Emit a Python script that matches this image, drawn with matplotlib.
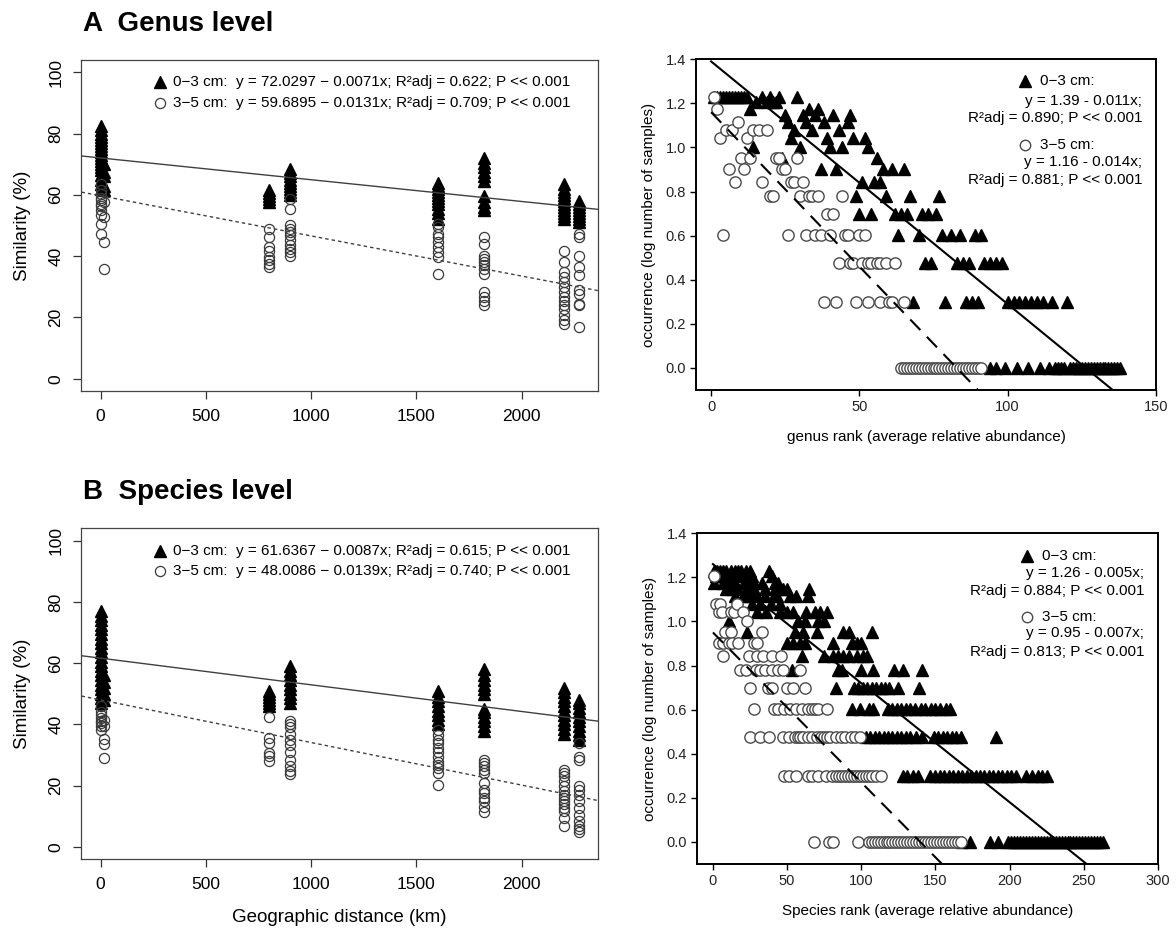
"""Distance-decay of similarity and rank-occurrence plots, genus and species level."""

import matplotlib
matplotlib.use("Agg")
import matplotlib.pyplot as plt
import numpy as np

plt.rcParams["font.family"] = ["Liberation Sans", "DejaVu Sans"]

# ---------------------------------------------------------------------------
# left panels: similarity (%) against geographic distance (km)
# ---------------------------------------------------------------------------
site_dist = [0, 15, 800, 900, 1600, 1820, 2200, 2270]

genus_sim_03 = [
    [62, 63.5, 65, 66.5, 68, 69, 70, 71, 72, 73, 74, 75, 76, 77, 78, 79, 80, 81, 82.5],
    [61.5, 63, 66, 67.5, 70],
    [57.5, 58.5, 59.5, 60.5, 61.5],
    [60, 61, 62, 63, 64, 65, 66, 67, 68.5],
    [52, 54, 55.5, 57, 58, 59, 60, 61, 62, 63, 64],
    [55, 56, 57.5, 59.5, 64.5, 66, 67.5, 69, 70.5, 72],
    [52, 53, 54, 55, 56, 57, 58, 59, 60, 61, 62, 63.5],
    [51, 52, 53, 54, 55, 56, 57, 58],
]
genus_sim_35 = [
    [47.3, 50.6, 53.3, 55, 56.5, 57.1, 58.2, 59, 60.3, 61.5, 63.6],
    [35.9, 44.6, 52.8, 57.5],
    [36.4, 37.5, 38.6, 39.6, 41.8, 42.9, 46.2, 48.9],
    [40, 41.4, 42.4, 43.5, 45.2, 46.8, 47.9, 49, 50.1, 55.5, 58.7],
    [34.2, 39.6, 41.3, 42.9, 44.6, 46.2, 47.3, 49.5, 50.6],
    [23.9, 25.5, 26.6, 28.2, 34.2, 35.9, 37, 38, 39.1, 40.2, 44, 46.2],
    [17.9, 19, 20.7, 22.8, 23.9, 25.5, 26.6, 28.2, 29.9, 31.5, 33.1, 34.8, 38, 41.8],
    [16.8, 23.9, 24.4, 27.7, 28.8, 33.7, 36.4, 40.2, 46.2, 47.3],
]
species_sim_03 = [
    [47, 48.5, 50, 51.5, 53, 54.5, 56, 57.5, 59, 60.5, 62, 63.5, 65, 66.5, 68, 69.5,
     71, 72.5, 74, 75.5, 77],
    [48, 50, 52, 54, 56],
    [46, 47, 48, 49, 50, 51],
    [47, 48.5, 50, 51.5, 53, 54.5, 56, 57.5, 59],
    [40, 41.5, 43, 44.5, 46, 47.5, 49, 51],
    [38, 39.5, 41, 42.5, 44, 45, 50, 51.5, 53, 54.5, 56, 58],
    [37, 38.5, 40, 41.5, 43, 44.5, 46, 47.5, 49, 50.5, 52],
    [35, 36.5, 38, 39.5, 41, 42.5, 44, 45.5, 47, 48],
]
species_sim_35 = [
    [38.3, 39.4, 40.5, 41, 42.1, 43, 44, 46],
    [29.2, 33.5, 35.1, 39.5, 41.5],
    [28.1, 29.7, 30.8, 34, 35.6, 42.3],
    [23.7, 24.7, 26.4, 28.4, 31.1, 33.3, 34.9, 37, 39.1, 40.1, 41.2],
    [20.3, 24.1, 25.7, 26.8, 27.9, 29.5, 31.1, 32.2, 33.8, 34.9, 36.5, 38.2],
    [11.6, 13.2, 14.9, 16, 17.5, 18.6, 20.8, 24.1, 25.2, 26.4, 27.4, 28.4],
    [6.9, 9.6, 11.7, 12.8, 13.9, 14.9, 16, 17.1, 18.2, 19.8, 21.4, 23.1, 24.1, 25.2],
    [4.8, 5.8, 6.9, 8.5, 10.6, 12.8, 14.9, 17.1, 18.6, 19.8, 28.4, 29.5, 33.8],
]

# regression fits (intercept, slope) as printed in the panels
genus_fit_03 = (72.0297, -0.0071)
genus_fit_35 = (59.6895, -0.0131)
species_fit_03 = (61.6367, -0.0087)
species_fit_35 = (48.0086, -0.0139)

genus_eq = [
    "0\u22123 cm:  y = 72.0297 \u2212 0.0071x; R\u00b2adj = 0.622; P << 0.001",
    "3\u22125 cm:  y = 59.6895 \u2212 0.0131x; R\u00b2adj = 0.709; P << 0.001",
]
species_eq = [
    "0\u22123 cm:  y = 61.6367 \u2212 0.0087x; R\u00b2adj = 0.615; P << 0.001",
    "3\u22125 cm:  y = 48.0086 \u2212 0.0139x; R\u00b2adj = 0.740; P << 0.001",
]

# ---------------------------------------------------------------------------
# right panels: occurrence (log number of samples) against abundance rank
# ---------------------------------------------------------------------------
occ_levels = [1.23, 1.204, 1.176, 1.146, 1.114, 1.079, 1.041, 1.0, 0.954, 0.903,
              0.845, 0.778, 0.699, 0.602, 0.477, 0.301, 0.0]

genus_rank_03 = [
    [1, 2, 3, 4, 5, 6, 7, 8, 9, 10, 11, 12, 17, 20, 23, 29],
    [15, 19, 21, 22],
    [13, 33, 36],
    [25, 31, 35, 41, 47],
    [26, 32, 38, 46],
    [28, 34, 43],
    [27, 39, 48, 52],
    [14, 30, 40, 44, 53],
    [24, 56],
    [37, 42, 58, 61, 65],
    [51, 55, 57],
    [49, 59, 67, 77],
    [50, 54, 62, 64, 66, 71, 73, 76],
    [63, 70, 78, 81, 84, 89, 91],
    [72, 74, 83, 85, 87, 92, 94, 96, 98],
    [68, 79, 86, 88, 90, 100, 102, 104, 106, 108, 110, 112, 115, 120],
    [94, 96, 99, 103, 107, 111, 114, 116, 117, 118, 119, 121, 122, 123, 124, 125,
     126, 127, 128, 129, 130, 131, 132, 133, 134, 135, 136, 137, 138],
]
genus_rank_35 = [
    [1],
    [],
    [2],
    [],
    [9],
    [5, 7, 14, 16, 19],
    [3, 12],
    [],
    [10, 13, 22, 23, 29],
    [6, 11, 24, 25],
    [8, 17, 27, 28, 31],
    [20, 21, 30, 33, 34, 36, 44],
    [39, 41],
    [4, 26, 32, 35, 37, 40, 45, 46, 50, 52],
    [43, 47, 48, 51, 53, 54, 56, 57, 59, 62],
    [38, 42, 49, 53, 57, 60, 61, 65],
    [64, 65, 66, 67, 68, 69, 70, 71, 72, 73, 74, 75, 76, 77, 78, 79, 80, 81, 82, 83,
     84, 85, 86, 87, 88, 89, 90, 91],
]
species_rank_03 = [
    [1, 3, 5, 7, 9, 12, 15, 17, 19, 22, 25, 38],
    [2, 4, 6, 10, 13, 16, 19, 23, 26, 40],
    [1, 7, 11, 14, 21, 25, 28, 33, 42, 44],
    [9, 13, 17, 23, 28, 35, 42, 47, 50, 65],
    [15, 20, 25, 30, 35, 41, 43, 52, 56, 64],
    [26, 32, 39, 45],
    [30, 36, 45, 50, 54, 63, 69, 72, 77],
    [11, 57, 62, 71, 75],
    [23, 55, 61, 70, 88, 92, 107],
    [50, 54, 59, 62, 81, 94, 97, 100],
    [60, 75, 81, 84, 88, 92, 97, 101, 104],
    [53, 84, 87, 100, 108, 122, 128, 141],
    [83, 95, 98, 101, 104, 107, 110, 113, 116, 119, 125, 139],
    [94, 99, 105, 108, 118, 121, 124, 127, 130, 133, 136, 140, 143, 147, 150, 153,
     157, 160],
    [103, 106, 109, 112, 115, 118, 121, 124, 127, 130, 133, 137, 141, 149, 152, 155,
     158, 161, 164, 167, 191],
    [128, 131, 135, 138, 146, 150, 153, 156, 159, 162, 165, 168, 171, 174, 177, 180,
     183, 186, 189, 192, 195, 198, 201, 204, 211, 215, 219, 222, 225],
    [168, 173, 187, 192, 199, 201, 203, 205, 207, 209, 211, 213, 215, 217, 219, 221,
     223, 225, 227, 229, 231, 233, 235, 237, 239, 241, 243, 245, 247, 249, 251, 253,
     255, 257, 259, 261, 263],
]
species_rank_35 = [
    [],
    [1],
    [],
    [],
    [],
    [2, 5, 16],
    [4, 6, 12, 14, 20],
    [23],
    [8, 12, 33],
    [4, 7, 11, 13, 17, 28, 30],
    [7, 24, 30, 34, 40, 46],
    [18, 22, 29, 32, 35, 40, 44, 47, 59],
    [25, 37, 40, 50, 54, 62],
    [28, 41, 44, 48, 52, 56, 60, 64, 67, 69, 71, 77],
    [25, 32, 38, 47, 51, 55, 57, 59, 61, 64, 67, 70, 73, 75, 77, 79, 83, 86, 89, 93,
     96, 99],
    [48, 51, 56, 64, 67, 71, 76, 80, 83, 85, 87, 89, 91, 93, 95, 97, 99, 101, 103,
     105, 107, 110, 113],
    [68, 78, 81, 98, 105, 107, 109, 111, 113, 115, 117, 119, 121, 123, 125, 127, 129,
     131, 133, 135, 137, 139, 141, 143, 145, 147, 149, 151, 153, 155, 157, 159, 161,
     163, 165, 167],
]

# fitted lines as drawn (intercept, slope)
genus_occ_fit_03 = (1.39, -0.011)
genus_occ_fit_35 = (1.16, -0.014)
species_occ_fit_03 = (1.26, -0.0054)
species_occ_fit_35 = (0.95, -0.0068)

genus_occ_eq = [("0\u22123 cm:", "y = 1.39 - 0.011x;", "R\u00b2adj = 0.890; P << 0.001"),
                ("3\u22125 cm:", "y = 1.16 - 0.014x;", "R\u00b2adj = 0.881; P << 0.001")]
species_occ_eq = [("0\u22123 cm:", "y = 1.26 - 0.005x;", "R\u00b2adj = 0.884; P << 0.001"),
                  ("3\u22125 cm:", "y = 0.95 - 0.007x;", "R\u00b2adj = 0.813; P << 0.001")]


def _flatten(xs, groups):
    x_out, y_out = [], []
    for x, ys in zip(xs, groups):
        x_out += [x] * len(ys)
        y_out += list(ys)
    return np.array(x_out, float), np.array(y_out, float)


def _by_level(levels, groups):
    ranks, occ = [], []
    for level, rs in zip(levels, groups):
        ranks += list(rs)
        occ += [level] * len(rs)
    order = np.argsort(ranks, kind="stable")
    return np.array(ranks, float)[order], np.array(occ, float)[order]


def distance_panel(ax, sim03, sim35, fit03, fit35, eq, xlabel=None):
    edge = "#3a3a3a"
    x, y = _flatten(site_dist, sim03)
    ax.plot(x, y, ls="none", marker="^", ms=9, color="black", mec="black", zorder=3)
    x, y = _flatten(site_dist, sim35)
    ax.plot(x, y, ls="none", marker="o", ms=7.3, mfc="none", mec=edge, mew=0.9, zorder=4)
    ax.set_xlim(-91, 2361)
    ax.set_ylim(-4, 104)
    xs = np.array(ax.get_xlim())
    ax.plot(xs, fit03[0] + fit03[1] * xs, color="#404040", lw=1.0, zorder=5)
    ax.plot(xs, fit35[0] + fit35[1] * xs, color="#404040", lw=1.0,
            dashes=(2.5, 2.2), zorder=5)
    ax.set_xticks([0, 500, 1000, 1500, 2000])
    ax.set_yticks([0, 20, 40, 60, 80, 100])
    for label in ax.get_yticklabels():
        label.set_rotation(90)
        label.set_va("center")
    ax.tick_params(direction="out", length=6, width=0.9, color="#333333",
                   labelsize=12.5, pad=7)
    for spine in ax.spines.values():
        spine.set_color("#444444")
        spine.set_linewidth(0.9)
    ax.set_ylabel("Similarity (%)", fontsize=13.5, va="center")
    ax.yaxis.set_label_coords(-0.115, 0.5)
    if xlabel:
        ax.set_xlabel(xlabel, fontsize=13.5, va="center")
        ax.xaxis.set_label_coords(0.5, -0.177)
    rows = [(0.932, "^", dict(ms=9, color="black")),
            (0.870, "o", dict(ms=7.3, mfc="none", mec=edge, mew=0.9))]
    for (fy, marker, style), text in zip(rows, eq):
        ax.plot([0.152], [fy], marker=marker, ls="none", transform=ax.transAxes,
                clip_on=False, **style)
        ax.text(0.178, fy, text, transform=ax.transAxes, fontsize=11, va="center")


def rank_panel(ax, ranks03, ranks35, fit03, fit35, eq, xlim, xticks, xlabel, legend_y):
    x, y = _by_level(occ_levels, ranks03)
    ax.plot(x, y, ls="none", marker="^", ms=8.6, color="black", zorder=3)
    x, y = _by_level(occ_levels, ranks35)
    ax.scatter(x, y, s=66, marker="o", facecolors="white", edgecolors="#4a4a4a",
               linewidths=1.0, zorder=4)
    ax.set_xlim(*xlim)
    ax.set_ylim(-0.1, 1.4)
    xs = np.array([0, xlim[1]])
    ax.plot(xs, fit03[0] + fit03[1] * xs, color="black", lw=1.5, zorder=5)
    ax.plot(xs, fit35[0] + fit35[1] * xs, color="black", lw=1.5,
            dashes=(7, 4.5), zorder=5)
    ax.set_xticks(xticks)
    ax.set_yticks(np.arange(0, 1.41, 0.2))
    ax.yaxis.set_major_formatter(matplotlib.ticker.FormatStrFormatter("%.1f"))
    ax.tick_params(direction="out", length=4.5, width=1.0, labelsize=10.5, pad=3,
                   labelcolor="#222222")
    for spine in ax.spines.values():
        spine.set_linewidth(1.4)
    ax.set_ylabel("occurrence (log number of samples)", fontsize=11, va="center")
    ax.yaxis.set_label_coords(-0.102, 0.5)
    ax.set_xlabel(xlabel, fontsize=11, va="center")
    ax.xaxis.set_label_coords(0.5, -0.141)

    marker_x, head_x, right_x = 0.715, 0.748, 0.97
    y0, y1, y2, y3, y4, y5 = legend_y
    ax.plot([marker_x], [y0], marker="^", ms=8.6, color="black", ls="none",
            transform=ax.transAxes, clip_on=False)
    ax.plot([marker_x], [y3], marker="o", ms=7.5, mfc="white", mec="#4a4a4a", mew=1.0,
            ls="none", transform=ax.transAxes, clip_on=False)
    for (head, line1, line2), (ya, yb, yc) in zip(eq, [(y0, y1, y2), (y3, y4, y5)]):
        ax.text(head_x, ya, head, transform=ax.transAxes, fontsize=11, va="center")
        ax.text(right_x, yb, line1, transform=ax.transAxes, fontsize=11,
                va="center", ha="right")
        ax.text(right_x, yc, line2, transform=ax.transAxes, fontsize=11,
                va="center", ha="right")


fig = plt.figure(figsize=(11.76, 9.30), dpi=100)

ax_a = fig.add_axes([0.0693, 0.5796, 0.4390, 0.3559])
ax_b = fig.add_axes([0.0693, 0.0760, 0.4390, 0.3559])
ax_c = fig.add_axes([0.5921, 0.5806, 0.3908, 0.3557])
ax_d = fig.add_axes([0.5930, 0.0710, 0.3917, 0.3556])

distance_panel(ax_a, genus_sim_03, genus_sim_35, genus_fit_03, genus_fit_35, genus_eq)
distance_panel(ax_b, species_sim_03, species_sim_35, species_fit_03, species_fit_35,
               species_eq, xlabel="Geographic distance (km)")

rank_panel(ax_c, genus_rank_03, genus_rank_35, genus_occ_fit_03, genus_occ_fit_35,
           genus_occ_eq, (-5, 150), [0, 50, 100, 150],
           "genus rank (average relative abundance)",
           (0.935, 0.875, 0.821, 0.741, 0.690, 0.635))
rank_panel(ax_d, species_rank_03, species_rank_35, species_occ_fit_03, species_occ_fit_35,
           species_occ_eq, (-10.5, 300), [0, 50, 100, 150, 200, 250, 300],
           "Species rank (average relative abundance)",
           (0.931, 0.879, 0.826, 0.748, 0.698, 0.642))

fig.text(83 / 1176, 1 - 31 / 930, "A  Genus level", fontsize=20, fontweight="bold",
         va="baseline")
fig.text(83 / 1176, 1 - 499 / 930, "B  Species level", fontsize=20, fontweight="bold",
         va="baseline")

fig.savefig("out.png", dpi=100)
